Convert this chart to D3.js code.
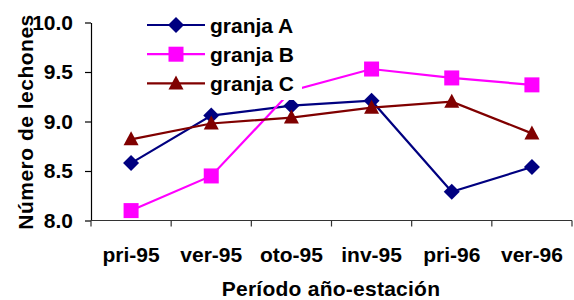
<!DOCTYPE html>
<html><head><meta charset="utf-8">
<script src="https://cdn.jsdelivr.net/npm/d3@7/dist/d3.min.js"></script>
<style>body{margin:0;background:#fff}svg{display:block}text{font-family:"Liberation Sans",Arial,sans-serif;font-weight:bold}</style>
</head><body><svg id="c" width="574" height="300"></svg>
<script>
const categories = ["pri-95","ver-95","oto-95","inv-95","pri-96","ver-96"];
const granjaA = [8.58, 9.06, 9.16, 9.21, 8.29, 8.54];
const granjaB = [8.10, 8.45, 9.31, 9.53, 9.44, 9.37];
const granjaC = [8.82, 8.98, 9.04, 9.14, 9.20, 8.88];
const yTicks = [8.0, 8.5, 9.0, 9.5, 10.0];
const seriesNames = ["granja A","granja B","granja C"];

const svg = d3.select("#c");
const x = d3.scaleBand().domain(categories).range([91, 572]).padding(0);
const y = d3.scaleLinear().domain([8, 10]).range([220.5, 22.5]);
const font = 21;

const series = [
  {name: seriesNames[0], values: granjaA, color: "#000080", shape: "diamond"},
  {name: seriesNames[1], values: granjaB, color: "#FF00FF", shape: "square"},
  {name: seriesNames[2], values: granjaC, color: "#800000", shape: "triangle"}
];

// Y axis
const yAxis = svg.append("g").attr("transform","translate(91,0)")
  .call(d3.axisLeft(y).tickValues(yTicks).tickFormat(d3.format(".1f")).tickSize(6).tickSizeOuter(0).tickPadding(12));
yAxis.select(".domain").attr("stroke","#000").attr("stroke-width",1.2);
yAxis.selectAll(".tick line").attr("stroke","#000").attr("stroke-width",1.2);
yAxis.selectAll(".tick text").attr("font-size",font).attr("fill","#000")
  .attr("font-family","Liberation Sans, Arial, sans-serif").attr("font-weight","bold");

// X axis
const xg = svg.append("g");
xg.append("line").attr("x1", x.range()[0]).attr("x2", x.range()[1])
  .attr("y1", y(8)).attr("y2", y(8)).attr("stroke","#333").attr("stroke-width",1.2);
const bounds = categories.map(c => x(c)).concat([x.range()[1]]);
xg.selectAll("line.tk").data(bounds).join("line").attr("class","tk")
  .attr("x1", d=>d).attr("x2", d=>d).attr("y1", y(8)).attr("y2", y(8)+6)
  .attr("stroke","#333").attr("stroke-width",1.2);
xg.selectAll("text").data(categories).join("text")
  .attr("x", d => x(d) + x.bandwidth()/2).attr("y", 261.5)
  .attr("text-anchor","middle").attr("font-size",font).text(d=>d);

// Axis titles
svg.append("text").attr("x", 331).attr("y", 295.5).attr("text-anchor","middle")
  .attr("font-size",font).attr("letter-spacing","0.25px").text("Período año-estación");
svg.append("text").attr("transform","translate(33,122) rotate(-90)").attr("text-anchor","middle")
  .attr("font-size",font).attr("letter-spacing","0.5px").text("Número de lechones");

function marker(g, shape, color) {
  if (shape === "diamond") g.append("path").attr("d","M0,-8L8,0L0,8L-8,0Z").attr("fill",color);
  else if (shape === "square") g.append("rect").attr("x",-7.5).attr("y",-7.5).attr("width",15).attr("height",15).attr("fill",color);
  else g.append("path").attr("d","M0,-8L7.5,6L-7.5,6Z").attr("fill",color);
}

const cx = c => x(c) + x.bandwidth()/2;
series.forEach(s => {
  const line = d3.line().x((d,i)=>cx(categories[i])).y(d=>y(d));
  svg.append("path").datum(s.values).attr("d", line).attr("fill","none")
    .attr("stroke", s.color).attr("stroke-width", 2.2);
  s.values.forEach((v,i) => {
    const g = svg.append("g").attr("transform",`translate(${cx(categories[i])},${y(v)})`);
    marker(g, s.shape, s.color);
  });
});

// Legend
const leg = svg.append("g");
leg.append("rect").attr("x",140).attr("y",8).attr("width",162).attr("height",92).attr("fill","#fff");
series.forEach((s,i) => {
  const yy = 25 + i*29.2;
  leg.append("line").attr("x1",147).attr("x2",205).attr("y1",yy).attr("y2",yy)
    .attr("stroke",s.color).attr("stroke-width",2.2);
  const g = leg.append("g").attr("transform",`translate(176,${yy})`);
  marker(g, s.shape, s.color);
  leg.append("text").attr("x",210).attr("y",yy+8).attr("font-size",font).text(s.name);
});
</script></body></html>
